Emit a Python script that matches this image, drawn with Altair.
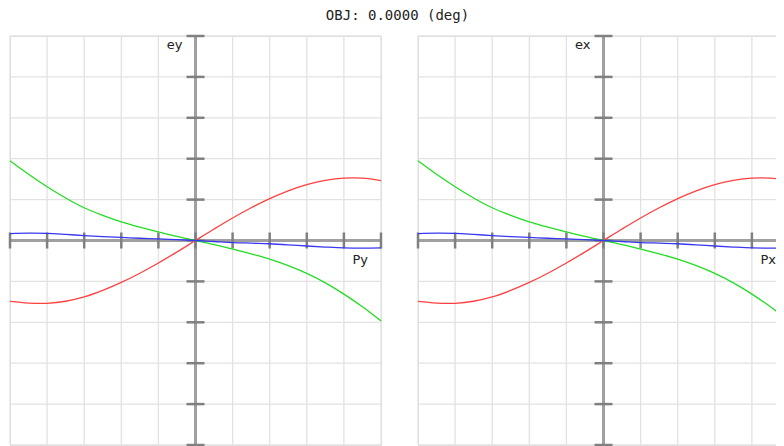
import altair as alt
import pandas as pd

# pupil coordinate (normalized)
PUPIL = [-1.0, -0.9, -0.8, -0.7, -0.6, -0.5, -0.4, -0.3, -0.2, -0.1, 0.0,
         0.1, 0.2, 0.3, 0.4, 0.5, 0.6, 0.7, 0.8, 0.9, 1.0]
# ray aberration per wavelength (normalized to plot scale)
RED = [-0.298, -0.306, -0.307, -0.297, -0.276, -0.244, -0.205, -0.160, -0.110, -0.056, 0.0,
       0.056, 0.110, 0.160, 0.205, 0.243, 0.273, 0.294, 0.305, 0.305, 0.293]
GREEN = [0.390, 0.324, 0.263, 0.208, 0.160, 0.123, 0.091, 0.065, 0.042, 0.020, 0.0,
         -0.020, -0.042, -0.065, -0.091, -0.123, -0.161, -0.207, -0.262, -0.324, -0.393]
BLUE = [0.034, 0.036, 0.035, 0.030, 0.024, 0.019, 0.015, 0.011, 0.008, 0.004, 0.0,
        -0.005, -0.010, -0.013, -0.016, -0.021, -0.027, -0.032, -0.036, -0.037, -0.036]

GRID = [-1.0, -0.8, -0.6, -0.4, -0.2, 0.0, 0.2, 0.4, 0.6, 0.8, 1.0]
TITLE = "OBJ: 0.0000 (deg)"
PANELS = [("ey", "Py"), ("ex", "Px")]

SERIES = [("red", RED, "#ff4040", 1.3), ("green", GREEN, "#22dd22", 1.3),
          ("blue", BLUE, "#3838f0", 1.8)]

rows = []
for name, vals, _, _ in SERIES:
    for p, v in zip(PUPIL, vals):
        rows.append({"p": p, "e": v, "s": name})
curves = pd.DataFrame(rows)
grid = pd.DataFrame({"v": GRID, "z": [0.0] * len(GRID),
                     "lo": [-1.0] * len(GRID), "hi": [1.0] * len(GRID)})

W, H = 371, 409
xs = alt.Scale(domain=[-1, 1], nice=False, zero=False)
ys = alt.Scale(domain=[-1, 1], nice=False, zero=False)


def panel(ylab, xlab, with_title):
    vgrid = alt.Chart(grid).mark_rule(color="#e2e2e2", strokeWidth=1.3).encode(
        x=alt.X("v:Q", scale=xs, axis=None),
        y=alt.Y("lo:Q", scale=ys, axis=None), y2="hi:Q")
    hgrid = alt.Chart(grid).mark_rule(color="#e2e2e2", strokeWidth=1.3).encode(
        y="v:Q", x="lo:Q", x2="hi:Q")
    haxis = alt.Chart(grid).mark_rule(color="#a0a0a0", strokeWidth=2).encode(
        x=alt.datum(-1), x2=alt.datum(1), y=alt.datum(0))
    vaxis = alt.Chart(grid).mark_rule(color="#a0a0a0", strokeWidth=2).encode(
        y=alt.datum(-1), y2=alt.datum(1), x=alt.datum(0))
    hticks = alt.Chart(grid).mark_rule(color="#808080", strokeWidth=2.5,
                                       yOffset=-8, y2Offset=8).encode(
        x="v:Q", y="z:Q", y2="z:Q")
    vticks = alt.Chart(grid).mark_rule(color="#808080", strokeWidth=2.5,
                                       xOffset=-9, x2Offset=9).encode(
        y="v:Q", x="z:Q", x2="z:Q")
    lines = alt.Chart(curves).mark_line(interpolate="catmull-rom").encode(
        x="p:Q", y="e:Q",
        color=alt.Color("s:N", scale=alt.Scale(domain=[s[0] for s in SERIES],
                                                range=[s[2] for s in SERIES]), legend=None),
        strokeWidth=alt.StrokeWidth("s:N", scale=alt.Scale(domain=[s[0] for s in SERIES],
                                                           range=[s[3] for s in SERIES]),
                                    legend=None),
        detail="s:N")
    ylabel = alt.Chart(pd.DataFrame({"t": [ylab]})).mark_text(
        align="right", baseline="top", dx=-13, dy=3, fontSize=13,
        font="DejaVu Sans", color="#222").encode(
        x=alt.datum(0), y=alt.datum(1), text="t:N")
    xlabel = alt.Chart(pd.DataFrame({"t": [xlab]})).mark_text(
        align="right", baseline="top", dx=-13, dy=13, fontSize=13,
        font="DejaVu Sans", color="#222").encode(
        x=alt.datum(1), y=alt.datum(0), text="t:N")
    layers = [vgrid, hgrid, haxis, vaxis, hticks, vticks, lines, ylabel, xlabel]
    if with_title:
        title = alt.Chart(pd.DataFrame({"t": [TITLE]})).mark_text(
            align="center", baseline="middle", dx=16.5, dy=-20, fontSize=14,
            font="DejaVu Sans Mono", color="#222").encode(
            x=alt.datum(1), y=alt.datum(1), text="t:N")
        layers.append(title)
    return alt.layer(*layers).properties(width=W, height=H)


chart = alt.hconcat(*[panel(a, b, i == 0) for i, (a, b) in enumerate(PANELS)],
                    spacing=37, bounds="flush").properties(
    autosize=alt.AutoSizeParams(type="none"),
    padding={"left": 2, "top": 28, "right": 766, "bottom": 402},
).configure_view(stroke="#a8a8a8", strokeWidth=1.5).configure(background="white")

chart.save("out.html", embed_options={"renderer": "svg", "actions": False})
